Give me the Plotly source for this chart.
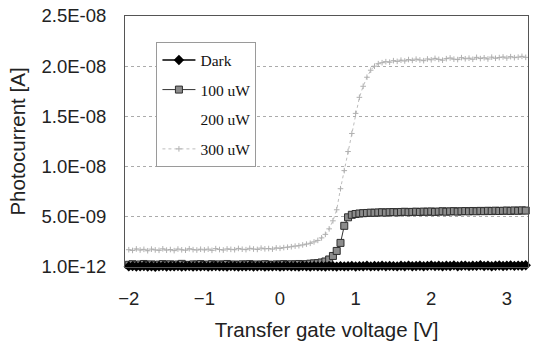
import plotly.graph_objects as go

# Sweep of the transfer gate voltage [V] (0.05 V step)
voltage = [round(-2 + 0.05 * i, 2) for i in range(106)]

# Photocurrent in nA
dark_nA = [
    0.06, 0.09, 0.04, 0.07, 0.10, 0.05, 0.08, 0.03, 0.07, 0.09,
    0.05, 0.08, 0.06, 0.10, 0.04, 0.07, 0.09, 0.05, 0.08, 0.06,
    0.09, 0.04, 0.07, 0.10, 0.06, 0.08, 0.05, 0.09, 0.07, 0.04,
    0.08, 0.06, 0.10, 0.05, 0.07, 0.09, 0.04, 0.08, 0.06, 0.10,
    0.05, 0.07, 0.09, 0.06, 0.08, 0.04, 0.10, 0.07, 0.05, 0.09,
    0.06, 0.08, 0.05, 0.10, 0.07, 0.04, 0.09, 0.06, 0.08, 0.11,
    0.05, 0.09, 0.07, 0.12, 0.06, 0.10, 0.08, 0.13, 0.07, 0.11,
    0.09, 0.06, 0.12, 0.08, 0.14, 0.07, 0.10, 0.13, 0.08, 0.11,
    0.15, 0.09, 0.12, 0.07, 0.13, 0.10, 0.16, 0.08, 0.12, 0.14,
    0.09, 0.13, 0.11, 0.17, 0.10, 0.14, 0.08, 0.12, 0.15, 0.10,
    0.13, 0.16, 0.11, 0.14, 0.12, 0.17,
]

p100_nA = [
    0.22, 0.28, 0.18, 0.25, 0.30, 0.20, 0.26, 0.17, 0.24, 0.29,
    0.21, 0.27, 0.19, 0.25, 0.31, 0.22, 0.18, 0.26, 0.23, 0.29,
    0.20, 0.24, 0.28, 0.19, 0.26, 0.22, 0.30, 0.21, 0.25, 0.18,
    0.27, 0.23, 0.29, 0.20, 0.25, 0.22, 0.28, 0.24, 0.19, 0.26,
    0.23, 0.29, 0.21, 0.27, 0.25, 0.30, 0.24, 0.28, 0.33, 0.36,
    0.38, 0.45, 0.55, 0.75, 1.10, 1.60, 2.40, 4.10, 4.95, 5.20,
    5.28, 5.33, 5.36, 5.38, 5.41, 5.40, 5.43, 5.45, 5.42, 5.46,
    5.47, 5.44, 5.48, 5.50, 5.46, 5.49, 5.51, 5.48, 5.52, 5.50,
    5.53, 5.49, 5.52, 5.55, 5.51, 5.54, 5.56, 5.52, 5.55, 5.57,
    5.54, 5.58, 5.55, 5.59, 5.56, 5.60, 5.57, 5.61, 5.58, 5.60,
    5.62, 5.59, 5.63, 5.60, 5.64, 5.62,
]

# 200 uW: the series is not visible in the picture, only its legend entry
p200_nA = [None]

p300_nA = [
    1.72, 1.65, 1.80, 1.69, 1.76, 1.62, 1.78, 1.70, 1.66, 1.81,
    1.68, 1.74, 1.63, 1.79, 1.71, 1.67, 1.82, 1.73, 1.69, 1.77,
    1.70, 1.78, 1.66, 1.83, 1.74, 1.69, 1.80, 1.76, 1.72, 1.85,
    1.77, 1.73, 1.86, 1.79, 1.75, 1.88, 1.81, 1.84, 1.78, 1.90,
    1.86, 1.93, 1.97, 2.02, 2.08, 2.12, 2.20, 2.28, 2.36, 2.50,
    2.65, 2.90, 3.25, 3.80, 4.60, 5.70, 7.80, 9.60, 11.50, 13.30,
    15.30, 16.90, 18.00, 18.90, 19.60, 20.00, 20.25, 20.35, 20.45, 20.40,
    20.55, 20.48, 20.60, 20.52, 20.66, 20.58, 20.70, 20.62, 20.55, 20.72,
    20.64, 20.78, 20.68, 20.60, 20.75, 20.82, 20.70, 20.66, 20.85, 20.74,
    20.80, 20.69, 20.88, 20.76, 20.84, 20.72, 20.90, 20.79, 20.86, 20.92,
    20.81, 20.95, 20.85, 20.90, 20.98, 20.88,
]

y_tickvals = [0, 5, 10, 15, 20, 25]
y_ticktext = ["1.0E-12", "5.0E-09", "1.0E-08", "1.5E-08", "2.0E-08", "2.5E-08"]
x_tickvals = [-2, -1, 0, 1, 2, 3]

fig = go.Figure()

fig.add_trace(go.Scatter(
    x=voltage, y=p300_nA, name="300 uW", mode="lines+markers",
    legendgroup="d", legendrank=4,
    line=dict(color="#bdbdbd", width=1, dash="dot"),
    marker=dict(symbol="cross-thin", size=4, line=dict(color="#b0b0b0", width=1)),
    cliponaxis=False,
))
fig.add_trace(go.Scatter(
    x=[None], y=p200_nA, name="200 uW", mode="lines",
    legendgroup="c", legendrank=3,
    line=dict(color="rgba(255,255,255,0)", width=1),
    cliponaxis=False,
))
fig.add_trace(go.Scatter(
    x=voltage, y=p100_nA, name="100 uW", mode="lines+markers",
    legendgroup="b", legendrank=2,
    line=dict(color="#333333", width=1),
    marker=dict(symbol="square", size=7, color="#8c8c8c", line=dict(color="#2e2e2e", width=1)),
    cliponaxis=False,
))
fig.add_trace(go.Scatter(
    x=voltage, y=dark_nA, name="Dark", mode="lines+markers",
    legendgroup="a", legendrank=1,
    line=dict(color="#000000", width=1.5),
    marker=dict(symbol="diamond", size=8, color="#000000"),
    cliponaxis=False,
))

fig.update_layout(
    width=537, height=343,
    margin=dict(l=125, r=9, t=16, b=76),
    paper_bgcolor="white", plot_bgcolor="white",
    font=dict(family="Liberation Sans, Arial, sans-serif", size=18.5, color="#222222"),
    showlegend=True,
    legend=dict(
        x=0.078, y=0.895, xanchor="left", yanchor="top",
        bgcolor="white", bordercolor="#9a9a9a", borderwidth=1,
        font=dict(family="Liberation Serif, Times New Roman, serif", size=15.5, color="#111111"),
        traceorder="grouped", tracegroupgap=6.5,
        itemwidth=33,
    ),
    xaxis=dict(
        range=[-2.05, 3.28], tickvals=x_tickvals, showgrid=False, zeroline=False,
        showline=True, mirror=True, linecolor="#555555", linewidth=1,
        ticks="", ticklabelstandoff=15, automargin=False,
        title=dict(text="Transfer gate voltage [V]", font=dict(size=20.5), standoff=14),
    ),
    yaxis=dict(
        range=[0, 25], tickvals=y_tickvals, ticktext=y_ticktext,
        showgrid=True, gridcolor="#ababab", griddash="dot", gridwidth=1,
        zeroline=False, showline=True, mirror=True, linecolor="#555555", linewidth=1,
        ticks="", ticklabelstandoff=14, automargin=False, ticklabeloverflow="allow",
        title=dict(text="Photocurrent [A]", font=dict(size=20.5), standoff=10),
    ),
)

# remove the default page margin so the 537x343 figure fills the window exactly
fig.write_html(
    "out.html",
    config={"displayModeBar": False},
    post_script="document.body.style.margin='0';document.body.style.overflow='hidden';",
)
